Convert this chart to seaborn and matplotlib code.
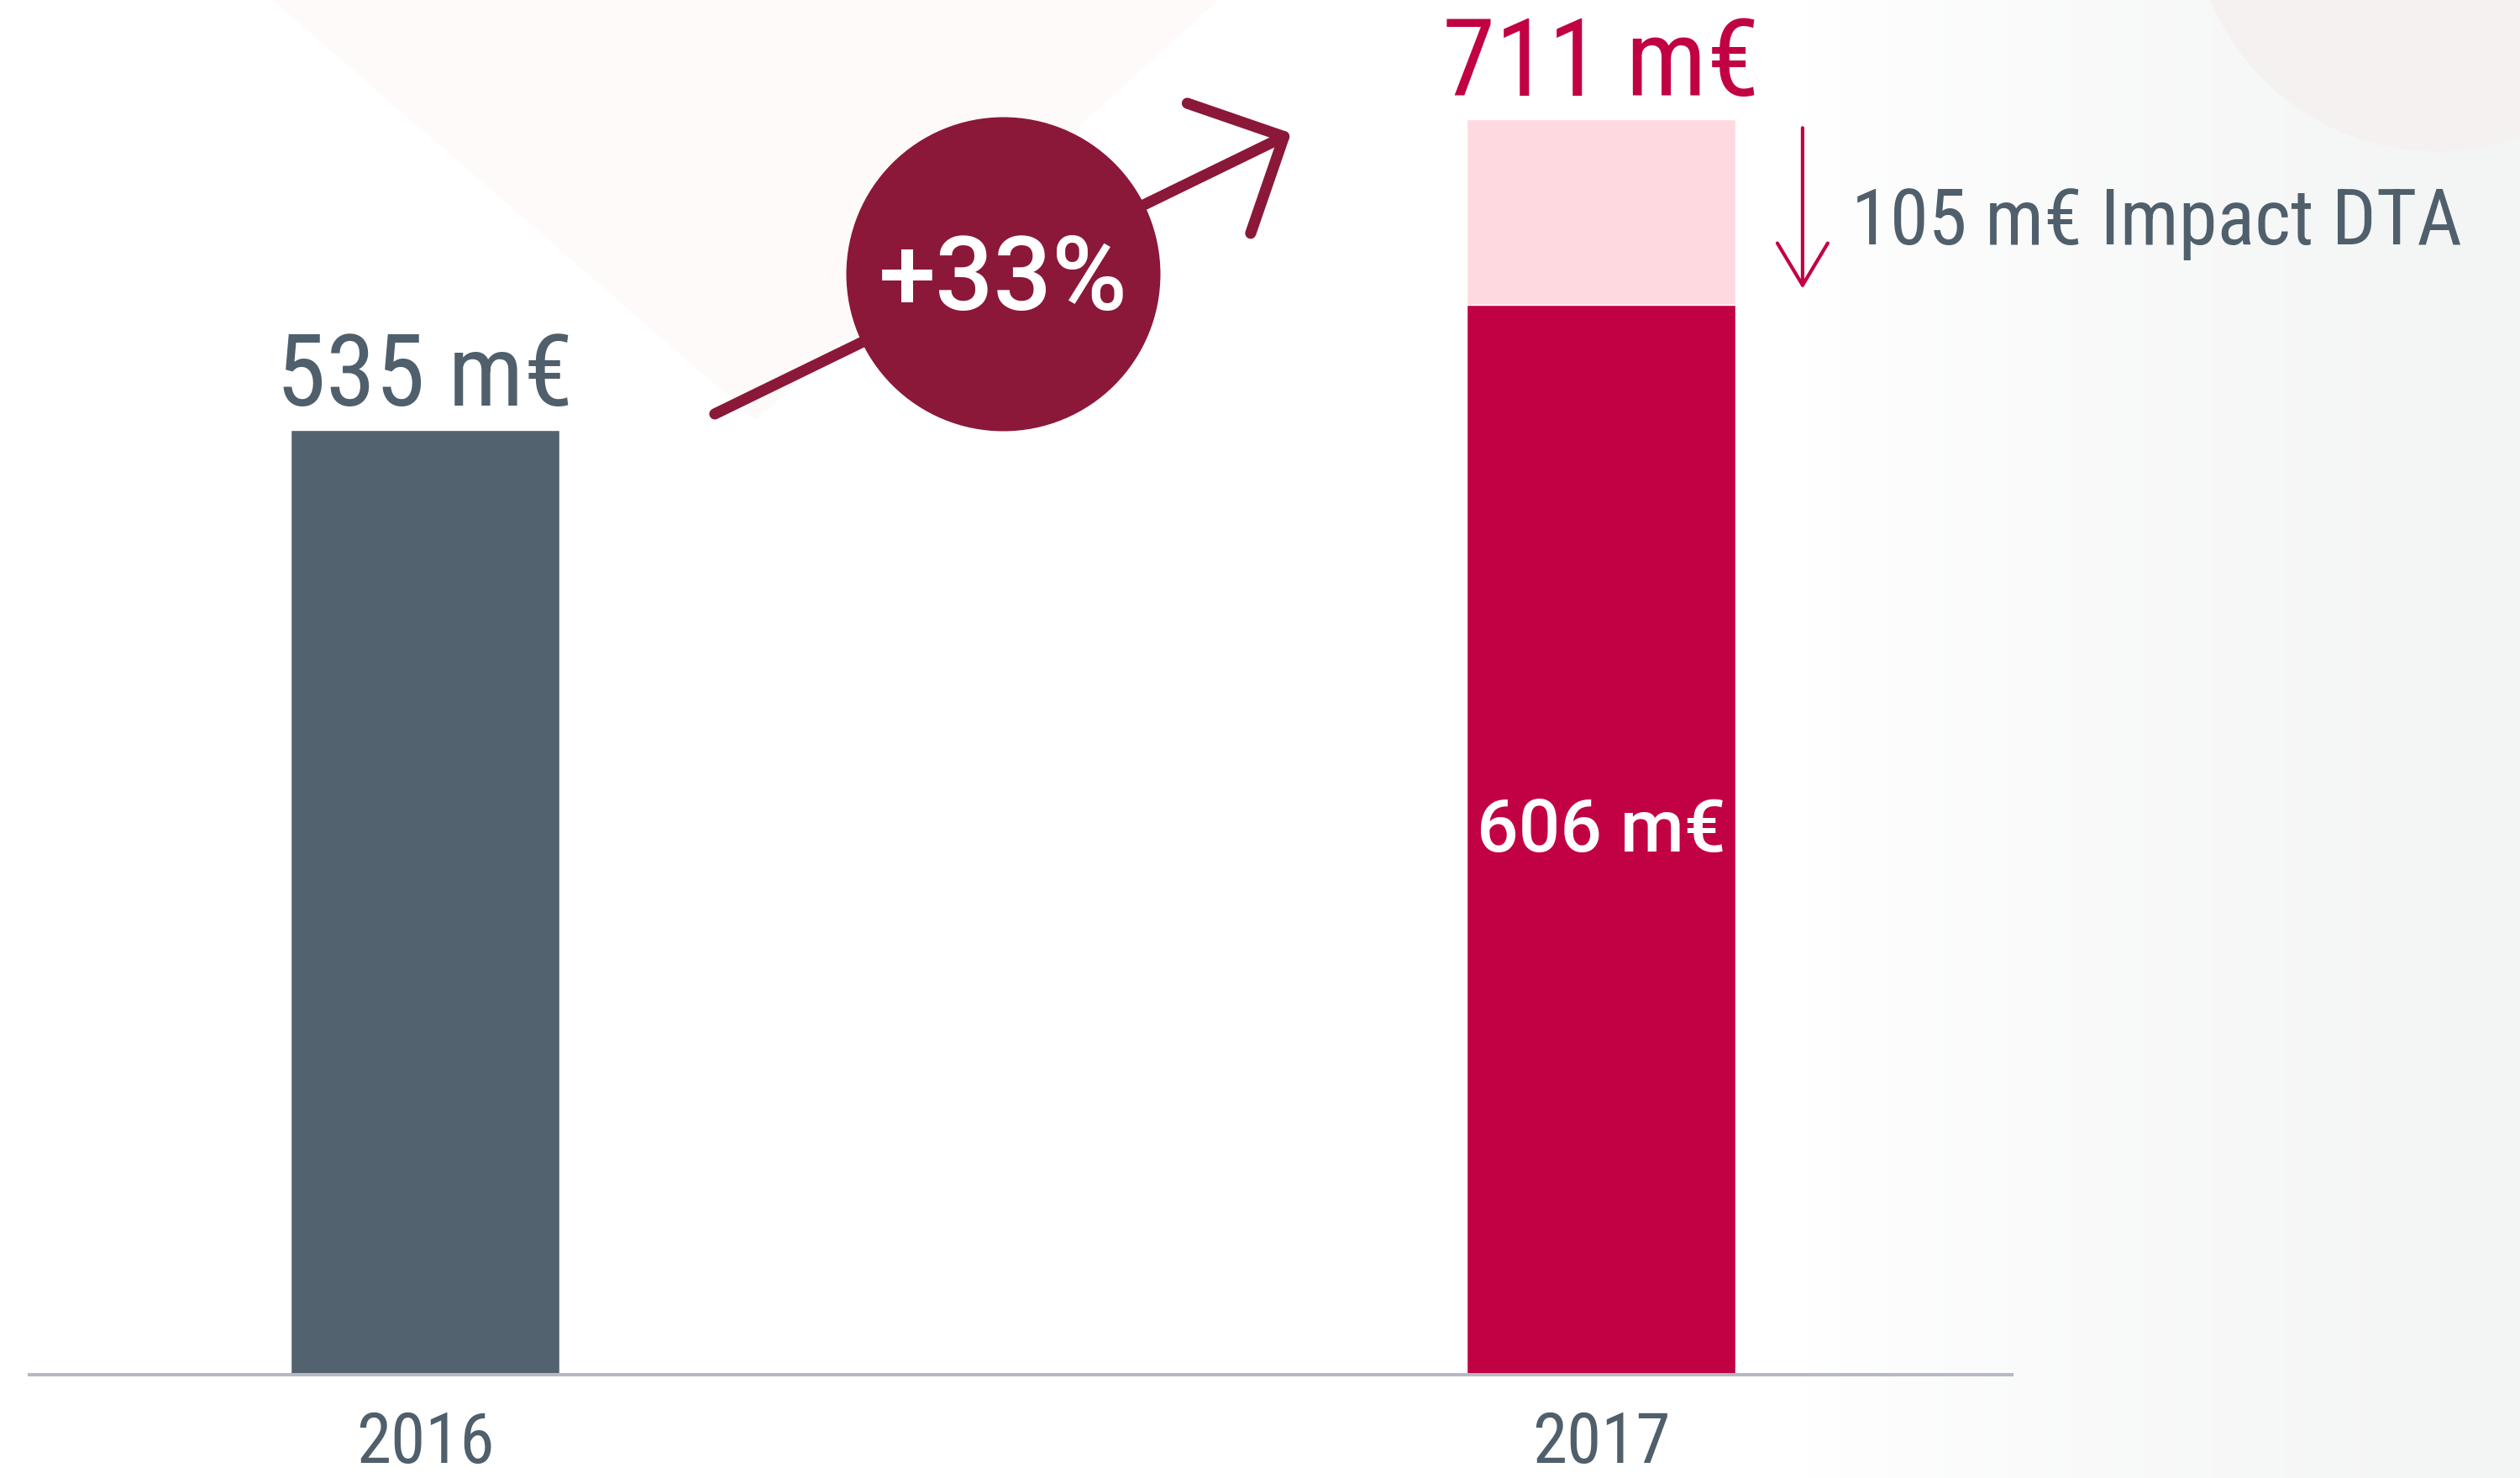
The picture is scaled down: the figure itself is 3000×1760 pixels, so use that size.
import matplotlib
matplotlib.use("Agg")
import matplotlib.pyplot as plt
from matplotlib import font_manager as fm
from matplotlib.patches import Polygon, Circle
import seaborn as sns
import numpy as np
import pandas as pd

# ----------------------------------------
# Data
# ----------------------------------------
years = ["2016", "2017"]
base_values = [535, 606]      # m€ without the DTA effect
dta_impact = [0, 105]         # m€ DTA impact (2017 only)
totals = [b + d for b, d in zip(base_values, dta_impact)]
dta_label = "105 m€ Impact DTA"

# ----------------------------------------
# Style
# ----------------------------------------
SLATE = "#52626E"
CRIMSON = "#C20044"
PINK = "#FFD9E0"
WINE = "#8B1839"
TEXT_GREY = "#4F5F6B"
BAR_W = 0.2286

sns.set_theme(style="white")
names = {f.name for f in fm.fontManager.ttflist}
NARROW = next((n for n in ["Liberation Sans Narrow", "Roboto Condensed"] if n in names), "DejaVu Sans")
ROUND = next((n for n in ["Roboto", "Lato", "Open Sans"] if n in names), "DejaVu Sans")
plt.rcParams["font.family"] = [NARROW, "DejaVu Sans"]

fig = plt.figure(figsize=(30, 17.6), dpi=100)

# ----------------------------------------
# Soft background decoration
# ----------------------------------------
bg = fig.add_axes([0, 0, 1, 1], zorder=-10)
bg.set_xlim(0, 3000)
bg.set_ylim(1760, 0)
bg.axis("off")
ramp = np.clip((np.linspace(0, 3000, 600) - 2150) / 850, 0, 1) ** 0.8
right = np.array([0.953, 0.957, 0.957])
img = 1 - ramp[None, :, None] * (1 - right[None, None, :])
bg.imshow(np.repeat(img, 2, axis=0), extent=(0, 3000, 1760, 0), aspect="auto")
bg.add_patch(Polygon([(325, 0), (1450, 0), (900, 500)], closed=True, color="#FDFAF9", lw=0))
bg.add_patch(Circle((2900, -110), 290, color="#F6F1F1", lw=0))

# ----------------------------------------
# Bars
# ----------------------------------------
ax = fig.add_axes([35 / 3000, 123 / 1760, 2360 / 3000, 1637 / 1760])
ax.patch.set_alpha(0)

df = pd.DataFrame({"year": years, "total": totals, "base": base_values})
sns.barplot(data=df, x="year", y="total", hue="year", palette={"2016": SLATE, "2017": PINK},
            width=BAR_W, saturation=1, errorbar=None, legend=False, ax=ax)
sns.barplot(data=df, x="year", y="base", hue="year", palette={"2016": SLATE, "2017": CRIMSON},
            width=BAR_W, saturation=1, errorbar=None, legend=False, ax=ax)

ax.set_xlim(-0.3364, 1.3493)
ax.set_ylim(0, 778.4)
ax.set_xlabel("")
ax.set_ylabel("")
ax.set_yticks([])
for side in ["top", "left", "right"]:
    ax.spines[side].set_visible(False)
ax.spines["bottom"].set_color("#B5BAC2")
ax.spines["bottom"].set_linewidth(2.9)
ax.tick_params(axis="x", length=0, pad=30, labelsize=60, labelcolor=TEXT_GREY)

# ----------------------------------------
# Labels
# ----------------------------------------
ax.annotate(f"{totals[0]} m€", (0, totals[0]), xytext=(0, 21), textcoords="offset points",
            ha="center", va="baseline", fontsize=86, color=TEXT_GREY)
ax.annotate(f"{totals[1]} m€", (1, totals[1]), xytext=(0, 20), textcoords="offset points",
            ha="center", va="baseline", fontsize=92, color=CRIMSON)
ax.annotate(f"{base_values[1]} m€", (1, base_values[1] / 2), xytext=(0, -10), textcoords="offset points",
            ha="center", va="baseline", fontsize=63, color="white",
            family=[ROUND, "DejaVu Sans"], fontweight="medium")

# DTA impact: down arrow + label
dta_mid = base_values[1] + dta_impact[1] / 2
ax.annotate("", xy=(1.1714, base_values[1] + 9), xytext=(1.1714, totals[1] - 5),
            arrowprops=dict(arrowstyle="->,head_length=1,head_width=0.6", color=CRIMSON, lw=3,
                            mutation_scale=36, shrinkA=0, shrinkB=0))
ax.annotate(dta_label, (1, dta_mid), xytext=(214.6, -28), textcoords="offset points",
            ha="left", va="baseline", fontsize=67, color=TEXT_GREY, annotation_clip=False)

# Growth arrow + bubble
start = (0.2464, totals[0] + 9)
end = (0.7364, totals[1] - 8)
ax.annotate("", xy=end, xytext=start,
            arrowprops=dict(arrowstyle="->,head_length=1,head_width=1", color=WINE, lw=9.5,
                            mutation_scale=62, shrinkA=0, shrinkB=0), zorder=3)
cx, cy = (start[0] + end[0]) / 2, (start[1] + end[1]) / 2
ax.scatter([cx], [cy], s=72500, color=WINE, linewidths=0, zorder=4, clip_on=False)
growth = round((totals[1] / totals[0] - 1) * 100)
ax.annotate(f"+{growth}%", (cx, cy), xytext=(0, -31), textcoords="offset points",
            ha="center", va="baseline", fontsize=88, color="white",
            family=[ROUND, "DejaVu Sans"], fontweight="medium", zorder=5)

fig.savefig("out.png", dpi=100)
plt.close()
